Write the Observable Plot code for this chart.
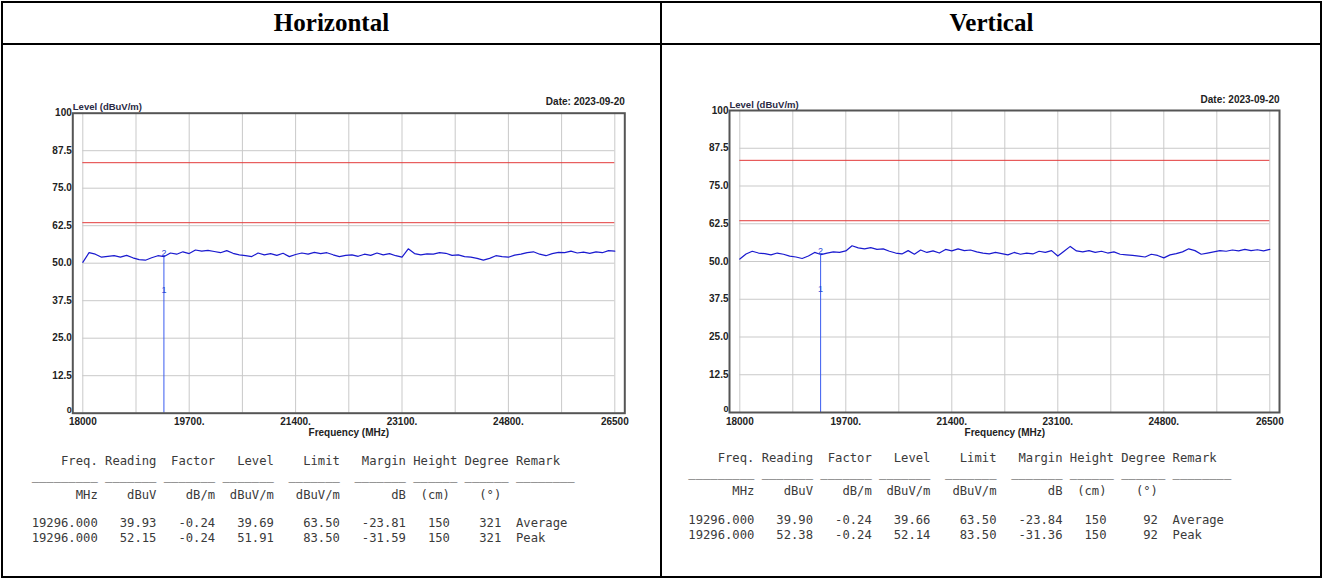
<!DOCTYPE html>
<html><head><meta charset="utf-8">
<script src="https://cdn.jsdelivr.net/npm/d3@7"></script>
<script src="https://cdn.jsdelivr.net/npm/@observablehq/plot@0.6"></script>
<style>
html,body{margin:0;padding:0;background:#fff;}
#page{position:relative;width:1324px;height:580px;overflow:hidden;background:#fff;}
.ln{position:absolute;background:#000;}
.head{position:absolute;top:2px;height:41px;line-height:41px;text-align:center;font-family:"Liberation Serif","Times New Roman",serif;font-weight:bold;font-size:25px;color:#000;}
.chart{position:absolute;}
.tl{position:absolute;font-family:"DejaVu Sans Mono",monospace;font-size:12.2px;line-height:15px;white-space:pre;color:#3a3a3a;}
</style></head><body><div id="page"></div>
<script>
// ---------------- data ----------------
const panelTitles = ["Horizontal", "Vertical"];
const dateLabel = "Date: 2023-09-20";
const yAxisTitle = "Level (dBuV/m)";
const xAxisTitle = "Frequency (MHz)";
const yTicks = [0, 12.5, 25, 37.5, 50, 62.5, 75, 87.5, 100];
const yTickLabels = ["0", "12.5", "25.0", "37.5", "50.0", "62.5", "75.0", "87.5", "100"];
const xTicks = [18000, 19700, 21400, 23100, 24800, 26500];
const xTickLabels = ["18000", "19700.", "21400.", "23100.", "24800.", "26500"];
const xGrid = [18000, 18850, 19700, 20550, 21400, 22250, 23100, 23950, 24800, 25650, 26500];
const limitLines = [83.5, 63.5];
const traceStartMHz = 18000;
const traceStepMHz = 100;
const traceH = [
  50.3, 53.5, 53.0, 52.0, 52.3, 52.5, 52.0, 52.6, 51.8, 51.2,
  51.0, 51.8, 52.5, 52.2, 53.4, 53.0, 53.8, 53.2, 54.4, 54.0,
  54.3, 53.9, 53.5, 54.2, 53.3, 52.8, 52.5, 52.2, 53.4, 52.8,
  53.2, 52.6, 53.3, 52.2, 52.9, 53.4, 53.0, 53.6, 53.2, 53.5,
  52.8, 52.2, 52.6, 52.8, 52.3, 53.0, 52.6, 53.4, 52.8, 53.2,
  52.5, 52.0, 54.8, 53.2, 52.8, 53.1, 53.0, 53.5, 53.3, 52.6,
  52.8, 52.2, 52.0, 51.6, 51.0, 51.6, 52.5, 52.2, 52.0, 52.7,
  53.0, 53.5, 53.8, 53.0, 52.5, 53.2, 53.6, 53.5, 54.0, 53.4,
  53.7, 53.3, 53.8, 53.5, 54.2, 54.0
];
const traceV = [
  50.8, 52.5, 53.4, 52.8, 52.6, 52.2, 52.8, 52.4, 51.8, 51.5,
  51.0, 51.8, 53.0, 52.3, 52.8, 53.2, 53.0, 53.5, 55.2, 54.5,
  54.2, 54.6, 54.0, 54.2, 53.4, 52.8, 52.5, 53.6, 52.4, 53.8,
  53.0, 53.5, 52.8, 54.0, 53.5, 54.2, 53.6, 53.8, 53.2, 52.8,
  52.5, 53.0, 52.6, 52.2, 53.0, 52.4, 52.8, 52.5, 53.4, 53.0,
  53.6, 51.8, 53.4, 55.0, 53.5, 53.2, 53.6, 53.0, 53.4, 52.8,
  53.2, 52.4, 52.2, 52.0, 51.8, 51.5, 52.4, 52.0, 51.2, 52.2,
  52.6, 53.2, 54.2, 53.6, 52.4, 52.8, 53.2, 53.6, 53.4, 53.8,
  53.5, 54.0, 53.6, 53.9, 53.5, 54.0
];
const markerFreq = 19296;
const markersH = [{label: "1", level: 39.69}, {label: "2", level: 51.91}];
const markersV = [{label: "1", level: 39.66}, {label: "2", level: 52.14}];
const tableHeader = ["Freq.", "Reading", "Factor", "Level", "Limit", "Margin", "Height", "Degree", "Remark"];
const tableUnits = ["MHz", "dBuV", "dB/m", "dBuV/m", "dBuV/m", "dB", "(cm)", "(°)", ""];
const rowsH = [
  ["19296.000", "39.93", "-0.24", "39.69", "63.50", "-23.81", "150", "321", "Average"],
  ["19296.000", "52.15", "-0.24", "51.91", "83.50", "-31.59", "150", "321", "Peak"]
];
const rowsV = [
  ["19296.000", "39.90", "-0.24", "39.66", "63.50", "-23.84", "150", "92", "Average"],
  ["19296.000", "52.38", "-0.24", "52.14", "83.50", "-31.36", "150", "92", "Peak"]
];

// ---------------- layout ----------------
const page = document.getElementById("page");
function line(x, y, w, h) {
  const d = document.createElement("div");
  d.className = "ln";
  Object.assign(d.style, {left: x + "px", top: y + "px", width: w + "px", height: h + "px"});
  page.appendChild(d);
}
line(1, 1, 1321, 2);
line(1, 576, 1321, 2);
line(1, 1, 2, 577);
line(1320, 1, 2, 577);
line(660, 1, 2, 577);
line(1, 43, 1321, 2);

panelTitles.forEach((t, i) => {
  const d = document.createElement("div");
  d.className = "head";
  d.textContent = t;
  Object.assign(d.style, {left: (i === 0 ? 2 : 662) + "px", width: "659px"});
  page.appendChild(d);
});

const panels = [
  {trace: traceH, markers: markersH, rows: rowsH, svgLeft: 0, svgTop: 90,
   frameL: 72.3, frameR: 624.3, frameT: 112.7, frameB: 412.7, x18: 82.3, x265: 614.3,
   tblX: 31.7, tblY: 461.7},
  {trace: traceV, markers: markersV, rows: rowsV, svgLeft: 662, svgTop: 90,
   frameL: 729, frameR: 1279, frameT: 110, frameB: 412, x18: 739.3, x265: 1269.3,
   tblX: 688.3, tblY: 458.5}
];

const W = 660, H = 360;
const yLab = d => yTickLabels[yTicks.indexOf(d)];
for (const p of panels) {
  const k = (p.x265 - p.x18) / (26500 - 18000);
  const fmin = 18000 - (p.x18 - p.frameL) / k;
  const fmax = 26500 + (p.frameR - p.x265) / k;
  const data = p.trace.map((v, i) => ({f: traceStartMHz + i * traceStepMHz, v}));
  const peak = d3.max(p.markers, d => d.level);
  const svg = Plot.plot({
    width: W, height: H,
    marginLeft: p.frameL - p.svgLeft,
    marginRight: p.svgLeft + W - p.frameR,
    marginTop: p.frameT - p.svgTop,
    marginBottom: p.svgTop + H - p.frameB,
    x: {domain: [fmin, fmax]},
    y: {domain: [0, 100]},
    style: {fontFamily: "'Liberation Sans', Arial, sans-serif", fontSize: "10px", background: "transparent", overflow: "visible"},
    marks: [
      Plot.ruleX(xGrid, {y1: 0, y2: 100, stroke: "#c9c9c9", strokeWidth: 1}),
      Plot.ruleY(yTicks.filter(d => d > 0 && d < 100), {x1: 18000, x2: 26500, stroke: "#c9c9c9", strokeWidth: 1}),
      Plot.ruleY(limitLines, {x1: 18000, x2: 26500, stroke: "#e33a3a", strokeWidth: 1}),
      Plot.line(data, {x: "f", y: "v", stroke: "#1a1acf", strokeWidth: 1.2}),
      Plot.ruleX([markerFreq], {y1: 0, y2: peak, stroke: "#3a5cf0", strokeWidth: 1}),
      Plot.text(p.markers, {x: () => markerFreq, y: "level", text: "label", lineAnchor: "bottom", dy: -1, fill: "#2a46d8", fontSize: 9}),
      Plot.frame({stroke: "#555", strokeWidth: 2}),
      Plot.axisY({ticks: yTicks.filter(d => d > 0), tickFormat: yLab, tickSize: 0, tickPadding: 1, fontWeight: "bold", fill: "#222", label: null}),
      Plot.axisY({ticks: [0], tickFormat: yLab, tickSize: 0, tickPadding: 1, dy: -3, fontSize: 9, fontWeight: "bold", fill: "#222", label: null}),
      Plot.axisX({ticks: xTicks, tickFormat: d => xTickLabels[xTicks.indexOf(d)], tickSize: 0, tickPadding: 5, fontWeight: "bold", fill: "#222", label: null}),
      Plot.text([yAxisTitle], {frameAnchor: "top-left", textAnchor: "start", lineAnchor: "bottom", dy: -3, fill: "#2a2a44", fontSize: 9.5, fontWeight: "bold"}),
      Plot.text([dateLabel], {frameAnchor: "top-right", textAnchor: "end", lineAnchor: "bottom", dy: -8, fill: "#222", fontSize: 10, fontWeight: "bold"}),
      Plot.text([xAxisTitle], {x: () => 22250, frameAnchor: "bottom", lineAnchor: "top", dy: 16, fill: "#222", fontSize: 10, fontWeight: "bold"})
    ]
  });
  svg.classList.add("chart");
  svg.style.left = p.svgLeft + "px";
  svg.style.top = p.svgTop + "px";
  svg.style.position = "absolute";
  page.appendChild(svg);

  // data table below the chart (fixed-width text)
  const ends = [9, 17, 25, 33, 42, 51, 58, 65];
  const dataEnds = [9, 17, 25, 33, 42, 51, 57, 64];
  const remarkAt = 66;
  const build = (fields, e) => {
    let s = "";
    for (let i = 0; i < 8; i++) s = s.padEnd(e[i] - fields[i].length) + fields[i];
    return s.padEnd(remarkAt) + fields[8];
  };
  const segs = [[0, 9], [10, 17], [18, 25], [26, 33], [35, 42], [44, 51], [52, 58], [59, 65], [66, 74]];
  let under = "";
  for (const [a, b] of segs) under = under.padEnd(a) + "_".repeat(b - a);
  const lines = [
    [build(tableHeader, ends), 0],
    [under, 14.5],
    [build(tableUnits, dataEnds), 33.3],
    [build(p.rows[0], dataEnds), 61.6],
    [build(p.rows[1], dataEnds), 76.6]
  ];
  for (const [txt, off] of lines) {
    const d = document.createElement("div");
    d.className = "tl";
    d.textContent = txt;
    d.style.left = p.tblX + "px";
    d.style.top = (p.tblY + off - 7.5) + "px";
    page.appendChild(d);
  }
}
</script></body></html>
